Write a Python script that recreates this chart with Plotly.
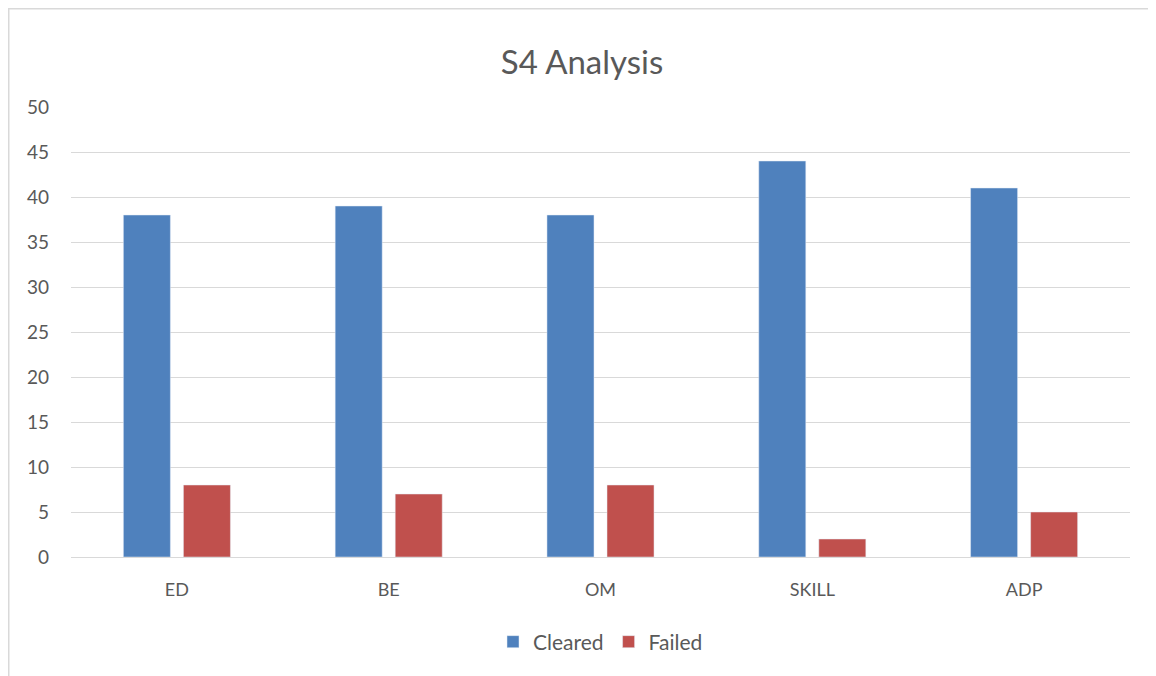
import plotly.graph_objects as go

categories = ["ED", "BE", "OM", "SKILL", "ADP"]
cleared = [38, 39, 38, 44, 41]
failed = [8, 7, 8, 2, 5]
y_ticks = [0, 5, 10, 15, 20, 25, 30, 35, 40, 45, 50]

# page has an 8px body margin; figure sized to compensate
W, H = 1148, 668
ml, mr, mt, mb = 63, 26, 99, 119
pw, ph = W - ml - mr, H - mt - mb

fig = go.Figure()
fig.add_trace(go.Bar(name="Cleared", x=categories, y=cleared, marker_color="#4F81BD"))
fig.add_trace(go.Bar(name="Failed", x=categories, y=failed, marker_color="#C0504D"))

font = "Lato, 'Open Sans', sans-serif"
fig.update_layout(
    width=W, height=H,
    margin=dict(l=ml, r=mr, t=mt, b=mb, autoexpand=False),
    paper_bgcolor="white", plot_bgcolor="white",
    barmode="group", bargap=0.433, bargroupgap=0.217,
    title=dict(text="S4 Analysis", x=0.5, xanchor="center", y=1 - 54 / H, yanchor="middle",
               font=dict(family=font, size=33, color="#595959")),
    font=dict(family=font, size=18, color="#595959"),
    legend=dict(orientation="h", x=0.5, xanchor="center", y=-85 / ph, yanchor="middle",
                font=dict(size=21, color="#595959"), itemwidth=30, tracegroupgap=0),
    yaxis=dict(range=[0, 50], tickvals=y_ticks, showgrid=True, gridcolor="#d9d9d9", gridwidth=1,
               zeroline=False, showline=False, ticks="", ticklabelstandoff=21,
               tickfont=dict(size=19, color="#595959"), fixedrange=True),
    xaxis=dict(showline=True, linecolor="#d9d9d9", linewidth=1, ticks="", ticklabelstandoff=16,
               tickfont=dict(size=18, color="#595959"), fixedrange=True),
    shapes=[
        dict(type="line", xref="paper", yref="paper", x0=(0.5 - ml) / pw, x1=(0.5 - ml) / pw,
             y0=1 + (mt - 0.5) / ph, y1=-(mb + 5) / ph, line=dict(color="#d9d9d9", width=2)),
        dict(type="line", xref="paper", yref="paper", x0=(0 - ml) / pw, x1=(W + 5 - ml) / pw,
             y0=1 + (mt - 0.5) / ph, y1=1 + (mt - 0.5) / ph, line=dict(color="#d9d9d9", width=2)),
    ],
)
fig.write_html("out.html", config={"displayModeBar": False})
